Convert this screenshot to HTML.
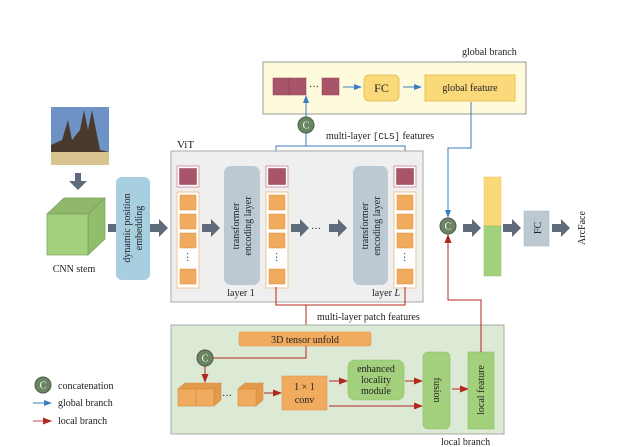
<!DOCTYPE html>
<html><head><meta charset="utf-8"><style>body{margin:0;background:#fff}svg{display:block}text{font-family:"Liberation Serif",serif;font-size:10px;fill:#222}</style></head><body>
<svg width="640" height="447" viewBox="0 0 640 447" xmlns="http://www.w3.org/2000/svg">
<defs>
<marker id="bl" markerWidth="8" markerHeight="8" refX="7" refY="4" orient="auto" markerUnits="userSpaceOnUse"><path d="M0,1 L8,4 L0,7 Z" fill="#3a7fc1"/></marker>
<marker id="rd" markerWidth="9" markerHeight="8" refX="8" refY="4" orient="auto" markerUnits="userSpaceOnUse"><path d="M0,0.5 L9,4 L0,7.5 Z" fill="#b0281e"/></marker>
<g id="ga"><path d="M0,-4 L9,-4 L9,-9 L18,0 L9,9 L9,4 L0,4 Z" fill="#5d6b7a"/></g>
<g id="col"><rect x="0" y="0" width="22" height="21" fill="#fff" stroke="#d99aa8"/><rect x="2.5" y="2.5" width="17" height="16" fill="#a8556a" stroke="#8c3f52" stroke-width=".5"/>
<rect x="0" y="26" width="22" height="96" fill="#fff" stroke="#f2c592"/>
<rect x="3" y="29" width="16" height="15" fill="#f0ab5e" stroke="#d88f40" stroke-width=".5"/><rect x="3" y="48" width="16" height="15" fill="#f0ab5e" stroke="#d88f40" stroke-width=".5"/><rect x="3" y="67" width="16" height="15" fill="#f0ab5e" stroke="#d88f40" stroke-width=".5"/><text x="11" y="95" text-anchor="middle" transform="rotate(90 11 91)">···</text><rect x="3" y="103" width="16" height="15" fill="#f0ab5e" stroke="#d88f40" stroke-width=".5"/></g>
<g id="cc"><circle r="8" fill="#6b8462" stroke="#4a5e44"/><text y="3.5" text-anchor="middle" style="fill:#fff;font-size:10px">C</text></g>
</defs>
<!-- global branch -->
<text x="462" y="55">global branch</text>
<rect x="263" y="62" width="263" height="52" fill="#fdfbdc" stroke="#999"/>
<rect x="273" y="78" width="16" height="17" fill="#a8556a" stroke="#8c3f52" stroke-width=".5"/><rect x="289" y="78" width="17" height="17" fill="#a8556a" stroke="#8c3f52" stroke-width=".5"/>
<text x="309" y="90">···</text>
<rect x="322" y="78" width="17" height="17" fill="#a8556a" stroke="#8c3f52" stroke-width=".5"/>
<line x1="343" y1="87" x2="361" y2="87" stroke="#3a7fc1" marker-end="url(#bl)"/>
<rect x="364" y="75" width="35" height="26" rx="5" fill="#fad97a" stroke="#e7c35e"/><text x="381.5" y="92" text-anchor="middle" style="font-size:12px">FC</text>
<line x1="403" y1="87" x2="421" y2="87" stroke="#3a7fc1" marker-end="url(#bl)"/>
<rect x="425" y="75" width="90" height="26" fill="#fad97a" stroke="#e7c35e"/><text x="470" y="91" text-anchor="middle">global feature</text>
<!-- CLS lines -->
<polyline points="276,166 276,146 405,146 405,166" fill="none" stroke="#3a7fc1"/>
<line x1="306" y1="146" x2="306" y2="133" stroke="#3a7fc1"/>
<line x1="306" y1="117" x2="306" y2="96" stroke="#3a7fc1" marker-end="url(#bl)"/>
<use href="#cc" x="306" y="125"/>
<text x="326" y="139">multi-layer <tspan font-family="Liberation Mono" font-size="9">[CLS]</tspan> features</text>
<polyline points="471,102 471,148 448,148 448,217" fill="none" stroke="#3a7fc1" marker-end="url(#bl)"/>
<!-- ViT -->
<text x="177" y="148" style="font-size:11px">ViT</text>
<rect x="171" y="151" width="252" height="151" fill="#efefef" stroke="#aaa"/>
<use href="#col" x="177" y="166"/>
<use href="#ga" x="202" y="228"/>
<rect x="224" y="166" width="36" height="119" rx="7" fill="#bcc8d2"/>
<text transform="translate(242 226) rotate(-90)" text-anchor="middle"><tspan x="0" y="-3">transformer</tspan><tspan x="0" y="9">encoding layer</tspan></text>
<text x="241" y="296" text-anchor="middle">layer 1</text>
<use href="#col" x="266" y="166"/>
<use href="#ga" x="291" y="228"/>
<text x="311" y="232">···</text>
<use href="#ga" x="329" y="228"/>
<rect x="353" y="166" width="35" height="119" rx="7" fill="#bcc8d2"/>
<text transform="translate(371 226) rotate(-90)" text-anchor="middle"><tspan x="0" y="-3">transformer</tspan><tspan x="0" y="9">encoding layer</tspan></text>
<text x="386" y="296" text-anchor="middle">layer <tspan font-style="italic">L</tspan></text>
<use href="#col" x="394" y="166"/>
<!-- left -->
<rect x="51" y="107" width="58" height="58" fill="#6d93c6"/>
<path d="M51,165 L51,145 L62,140 L68,120 L72,140 L80,130 L84,110 L88,130 L92,110 L96,130 L100,150 L109,152 L109,165 Z" fill="#4a3a2c"/>
<rect x="51" y="152" width="58" height="13" fill="#d9c38f"/>
<path d="M75,173 h6 v8 h6 l-9,9 l-9,-9 h6 Z" fill="#5d6b7a"/>
<path d="M47,214 L64,198 L105,198 L88,214 Z" fill="#8fb86a" stroke="#78a055" stroke-width=".7"/>
<path d="M88,214 L105,198 L105,239 L88,255 Z" fill="#92bd6c" stroke="#78a055" stroke-width=".7"/>
<rect x="47" y="214" width="41" height="41" fill="#a3d07c" stroke="#78a055" stroke-width=".7"/>
<text x="74" y="272" text-anchor="middle">CNN stem</text>
<rect x="108" y="224" width="9" height="8" fill="#5d6b7a"/>
<rect x="116" y="177" width="34" height="103" rx="6" fill="#a8cfe0"/>
<text transform="translate(133 228) rotate(-90)" text-anchor="middle"><tspan x="0" y="-3">dynamic position</tspan><tspan x="0" y="9">embedding</tspan></text>
<use href="#ga" x="150" y="228"/>
<!-- patch lines -->
<polyline points="276,287 276,305 405,305 405,287" fill="none" stroke="#b0281e"/>
<line x1="306" y1="305" x2="306" y2="332" stroke="#b0281e"/>
<text x="317" y="320">multi-layer patch features</text>
<!-- local branch -->
<rect x="171" y="325" width="333" height="109" fill="#dbe9d5" stroke="#aaa"/>
<text x="441" y="445">local branch</text>
<rect x="239" y="332" width="132" height="14" rx="2" fill="#f0ab5e" stroke="#d88f40" stroke-width=".5"/>
<text x="305" y="343" text-anchor="middle">3D tensor unfold</text>
<polyline points="306,346 306,358 213,358" fill="none" stroke="#b0281e"/>
<line x1="205" y1="366" x2="205" y2="382" stroke="#b0281e" marker-end="url(#rd)"/>
<use href="#cc" x="205" y="358"/>
<!-- cubes -->
<g stroke="#d88f40" stroke-width=".6">
<path d="M178,389 L185,383 L221,383 L214,389 Z" fill="#e39a4c"/>
<path d="M214,389 L221,383 L221,400 L214,406 Z" fill="#e39a4c"/>
<rect x="178" y="389" width="18" height="17" fill="#f0ab5e"/><rect x="196" y="389" width="18" height="17" fill="#f0ab5e"/>
<path d="M238,389 L245,383 L263,383 L256,389 Z" fill="#e39a4c"/>
<path d="M256,389 L263,383 L263,400 L256,406 Z" fill="#e39a4c"/>
<rect x="238" y="389" width="18" height="17" fill="#f0ab5e"/>
</g>
<text x="222" y="399">···</text>
<line x1="264" y1="393" x2="281" y2="393" stroke="#b0281e" marker-end="url(#rd)"/>
<rect x="282" y="376" width="45" height="34" fill="#f0ab5e" stroke="#d88f40" stroke-width=".5"/>
<text x="304.5" y="390" text-anchor="middle">1 × 1</text><text x="304.5" y="403" text-anchor="middle">conv</text>
<line x1="329" y1="381" x2="347" y2="381" stroke="#b0281e" marker-end="url(#rd)"/>
<rect x="348" y="360" width="56" height="40" rx="7" fill="#a3d07c" stroke="#8cbd66" stroke-width=".6"/>
<text x="376" y="372" text-anchor="middle">enhanced</text><text x="376" y="383" text-anchor="middle">locality</text><text x="376" y="394" text-anchor="middle">module</text>
<line x1="405" y1="381" x2="422" y2="381" stroke="#b0281e" marker-end="url(#rd)"/>
<line x1="329" y1="406" x2="422" y2="406" stroke="#b0281e" marker-end="url(#rd)"/>
<rect x="423" y="352" width="27" height="77" rx="5" fill="#a3d07c" stroke="#8cbd66" stroke-width=".6"/>
<text transform="translate(437 390) rotate(90)" text-anchor="middle" y="3">fusion</text>
<line x1="452" y1="389" x2="468" y2="389" stroke="#b0281e" marker-end="url(#rd)"/>
<rect x="468" y="352" width="26" height="77" fill="#a3d07c" stroke="#8cbd66" stroke-width=".6"/>
<text transform="translate(481 390) rotate(-90)" text-anchor="middle" y="3">local feature</text>
<polyline points="481,352 481,300 448,300 448,235" fill="none" stroke="#b0281e" marker-end="url(#rd)"/>
<!-- right -->
<use href="#cc" x="448" y="226"/>
<use href="#ga" x="463" y="228"/>
<rect x="484" y="177" width="17" height="49" fill="#fad97a" stroke="#e7c35e" stroke-width=".5"/>
<rect x="484" y="226" width="17" height="50" fill="#a3d07c" stroke="#8cbd66" stroke-width=".5"/>
<use href="#ga" x="503" y="228"/>
<rect x="524" y="211" width="25" height="35" fill="#bcc8d2" stroke="#a8b4be" stroke-width=".5"/>
<text transform="translate(537 228) rotate(-90)" text-anchor="middle" y="4">FC</text>
<use href="#ga" x="552" y="228"/>
<text transform="translate(581 228) rotate(-90)" text-anchor="middle" y="4">ArcFace</text>
<!-- legend -->
<use href="#cc" x="43" y="385"/>
<text x="58" y="389">concatenation</text>
<line x1="33" y1="403" x2="51" y2="403" stroke="#3a7fc1" marker-end="url(#bl)"/>
<text x="58" y="406">global branch</text>
<line x1="33" y1="421" x2="51" y2="421" stroke="#d07070" stroke-width="1.2" marker-end="url(#rd)"/>
<text x="58" y="424">local branch</text>
</svg>
</body></html>
